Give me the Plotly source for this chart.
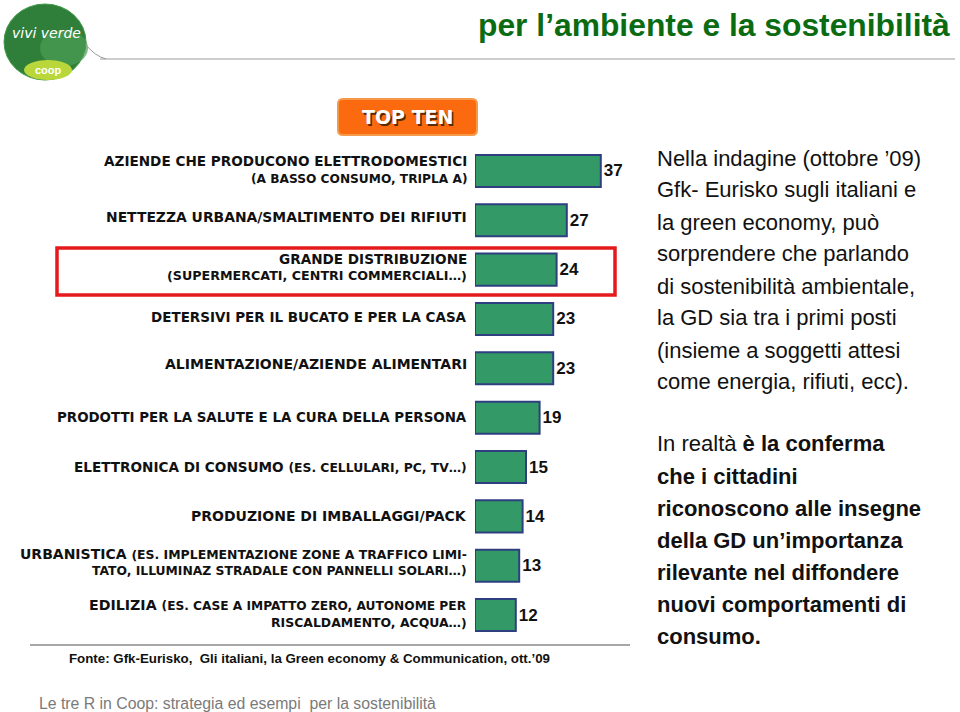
import plotly.graph_objects as go

W, H = 960, 712

categories = [
    "AZIENDE CHE PRODUCONO ELETTRODOMESTICI<br>(A BASSO CONSUMO, TRIPLA A)",
    "NETTEZZA URBANA/SMALTIMENTO DEI RIFIUTI",
    "GRANDE DISTRIBUZIONE<br>(SUPERMERCATI, CENTRI COMMERCIALI…)",
    "DETERSIVI PER IL BUCATO E PER LA CASA",
    "ALIMENTAZIONE/AZIENDE ALIMENTARI",
    "PRODOTTI PER LA SALUTE E LA CURA DELLA PERSONA",
    "ELETTRONICA DI CONSUMO (ES. CELLULARI, PC, TV…)",
    "PRODUZIONE DI IMBALLAGGI/PACK",
    "URBANISTICA (ES. IMPLEMENTAZIONE ZONE A TRAFFICO LIMI-<br>TATO, ILLUMINAZ STRADALE CON PANNELLI SOLARI…)",
    "EDILIZIA (ES. CASE A IMPATTO ZERO, AUTONOME PER<br>RISCALDAMENTO, ACQUA…)",
]
values = [37, 27, 24, 23, 23, 19, 15, 14, 13, 12]

title_text = "per l’ambiente e la sostenibilità"
badge_text = "TOP TEN"
source_text = "Fonte: Gfk-Eurisko,  Gli italiani, la Green economy & Communication, ott.’09"
footer_text = "Le tre R in Coop: strategia ed esempi  per la sostenibilità"
para1_lines = [
    "Nella indagine (ottobre ’09)",
    "Gfk- Eurisko sugli italiani e",
    "la green economy, può",
    "sorprendere che parlando",
    "di sostenibilità ambientale,",
    "la GD sia tra i primi posti",
    "(insieme a soggetti attesi",
    "come energia, rifiuti, ecc).",
]
para2_lines = [
    "In realtà <b>è la conferma</b>",
    "<b>che i cittadini</b>",
    "<b>riconoscono alle insegne</b>",
    "<b>della GD un’importanza</b>",
    "<b>rilevante nel diffondere</b>",
    "<b>nuovi comportamenti di</b>",
    "<b>consumo.</b>",
]

# label layout: per line (pixel y-offset from bar centre, font size, size of "(ES." part)
label_style = [
    [(-10, 13.6, None), (8, 12.2, None)],
    [(-3, 13.9, None)],
    [(-11, 13.6, None), (6, 12.7, None)],
    [(-2, 13.5, None)],
    [(-4, 14.0, None)],
    [(0, 13.4, None)],
    [(0, 13.6, 12.35)],
    [(0, 14.0, None)],
    [(-12, 14.0, 12.45), (5, 12.35, None)],
    [(-10, 14.2, 12.2), (7, 12.45, None)],
]


def px(x):
    return x / W


def py(y):
    return 1 - y / H


ypos = list(range(len(values)))

fig = go.Figure()
fig.add_trace(go.Bar(
    x=values, y=ypos, orientation="h", width=0.65,
    marker=dict(color="#339966", line=dict(color="#2E3F80", width=2)),
    text=[str(v) for v in values], textposition="outside", cliponaxis=False,
    textfont=dict(family="Liberation Sans, Arial", size=17, color="#111111", weight="bold"),
    hoverinfo="skip",
))

annotations = []
shapes = []

# category labels, one annotation per line
for i, c in enumerate(categories):
    for line, (dy, fs, psize) in zip(c.split("<br>"), label_style[i]):
        txt = line
        if psize is not None and " (ES." in line:
            main, rest = line.split(" (ES.", 1)
            txt = main + f" <span style='font-size:{psize}px'>(ES." + rest + "</span>"
        annotations.append(dict(
            x=px(469), xref="paper", xanchor="right", y=i, yref="y", yanchor="middle",
            yshift=-dy, text="<b>" + txt + "</b>", showarrow=False, align="right",
            font=dict(family="DejaVu Sans", size=fs, color="#111111"),
        ))

# title
annotations.append(dict(
    x=px(476), y=py(25), xref="paper", yref="paper", xanchor="left", yanchor="middle",
    text="<b>" + title_text + "</b>", showarrow=False,
    font=dict(family="Liberation Sans, Arial", size=31.8, color="#0B6B12"),
))
shapes.append(dict(type="line", xref="paper", yref="paper",
                   x0=px(100), x1=px(955), y0=py(59), y1=py(59),
                   line=dict(color="#BDBDBD", width=1.5)))

# logo approximation
shapes.append(dict(type="circle", xref="paper", yref="paper",
                   x0=px(4), x1=px(86), y0=py(80), y1=py(4),
                   fillcolor="#2F7F3A", line=dict(color="#3F9A47", width=1)))
shapes.append(dict(type="circle", xref="paper", yref="paper",
                   x0=px(40), x1=px(88), y0=py(66), y1=py(30),
                   fillcolor="#4C9C55", line=dict(width=0), opacity=0.7))
shapes.append(dict(type="circle", xref="paper", yref="paper",
                   x0=px(24), x1=px(72), y0=py(80), y1=py(60),
                   fillcolor="#B9D63A", line=dict(width=0)))
shapes.append(dict(type="path", xref="paper", yref="paper",
                   path=f"M {px(86)} {py(45)} Q {px(95)} {py(56)} {px(106)} {py(59)}",
                   line=dict(color="#9A9A9A", width=1)))
annotations.append(dict(
    x=px(46), y=py(33), xref="paper", yref="paper", xanchor="center", yanchor="middle",
    text="<i>vivi verde</i>", showarrow=False,
    font=dict(family="DejaVu Sans", size=14, color="white"),
))
annotations.append(dict(
    x=px(48), y=py(70), xref="paper", yref="paper", xanchor="center", yanchor="middle",
    text="<b>coop</b>", showarrow=False,
    font=dict(family="Liberation Sans, Arial", size=11, color="white"),
))

# TOP TEN badge
x0b, x1b, y0b, y1b, r = 338, 477, 99, 135, 5
badge_path = (
    f"M {px(x0b + r)} {py(y0b)} L {px(x1b - r)} {py(y0b)} "
    f"Q {px(x1b)} {py(y0b)} {px(x1b)} {py(y0b + r)} L {px(x1b)} {py(y1b - r)} "
    f"Q {px(x1b)} {py(y1b)} {px(x1b - r)} {py(y1b)} L {px(x0b + r)} {py(y1b)} "
    f"Q {px(x0b)} {py(y1b)} {px(x0b)} {py(y1b - r)} L {px(x0b)} {py(y0b + r)} "
    f"Q {px(x0b)} {py(y0b)} {px(x0b + r)} {py(y0b)} Z"
)
shapes.append(dict(type="path", xref="paper", yref="paper", path=badge_path,
                   fillcolor="#FB6A0E", line=dict(color="#F59A4A", width=2)))
annotations.append(dict(
    x=px(407.5), y=py(117.5), xref="paper", yref="paper",
    xanchor="center", yanchor="middle",
    text="<b>" + badge_text + "</b>", showarrow=False,
    font=dict(family="DejaVu Sans", size=19, color="white",
              shadow="1.5px 1.5px 0px #5A2A00"),
))

# red highlight rectangle
shapes.append(dict(type="rect", xref="paper", yref="paper",
                   x0=px(57), x1=px(615), y0=py(295), y1=py(248),
                   line=dict(color="#E41A1C", width=3.5), fillcolor="rgba(0,0,0,0)"))

# source line and text
shapes.append(dict(type="line", xref="paper", yref="paper",
                   x0=px(30), x1=px(630), y0=py(645), y1=py(645),
                   line=dict(color="#8A8A8A", width=1.5)))
annotations.append(dict(
    x=px(67), y=py(658), xref="paper", yref="paper", xanchor="left", yanchor="middle",
    text="<b>" + source_text + "</b>", showarrow=False,
    font=dict(family="Liberation Sans, Arial", size=13.3, color="#111111"),
))

# right paragraphs
pfont = dict(family="Liberation Sans Narrow, Arial Narrow, Liberation Sans", size=22, color="#111111")
p1_y = [158, 190, 222, 254, 286, 318, 350, 381]
for t, yy in zip(para1_lines, p1_y):
    annotations.append(dict(
        x=px(655), y=py(yy), xref="paper", yref="paper", xanchor="left", yanchor="middle",
        text=t, showarrow=False, font=pfont,
    ))
p2_y = [443, 476, 508, 540, 572, 604, 636]
for t, yy in zip(para2_lines, p2_y):
    annotations.append(dict(
        x=px(655), y=py(yy), xref="paper", yref="paper", xanchor="left", yanchor="middle",
        text=t, showarrow=False, font=pfont,
    ))

# footer
annotations.append(dict(
    x=px(37), y=py(703), xref="paper", yref="paper", xanchor="left", yanchor="middle",
    text=footer_text, showarrow=False,
    font=dict(family="Liberation Sans, Arial", size=15.8, color="#7A7A7A"),
))

fig.update_layout(
    width=W, height=H, autosize=False,
    margin=dict(l=0, r=0, t=0, b=0),
    paper_bgcolor="white", plot_bgcolor="white",
    showlegend=False,
    xaxis=dict(domain=[px(475), px(645)], range=[0, 50], visible=False, fixedrange=True),
    yaxis=dict(domain=[py(639.7), py(146.3)], range=[9.5, -0.5], visible=False, fixedrange=True),
    annotations=annotations, shapes=shapes,
)

fig.write_html(
    "out.html",
    config={"displayModeBar": False},
    post_script="document.body.style.margin='0';document.body.style.overflow='hidden';",
)
